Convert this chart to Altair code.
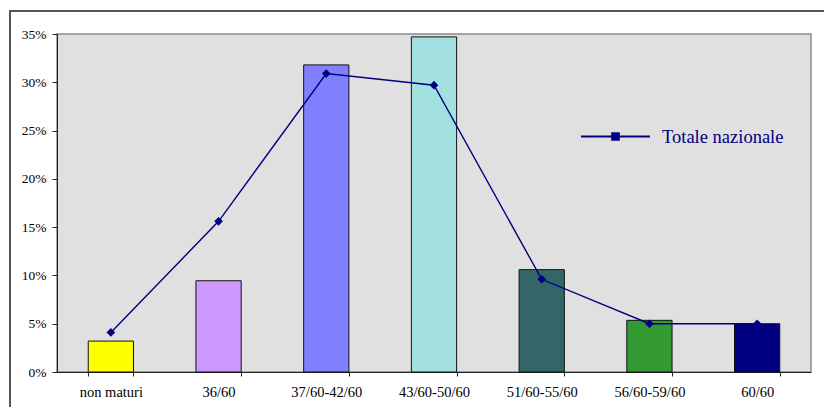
import altair as alt
import pandas as pd

# Fasce di voto e quote percentuali
categorie = ["non maturi", "36/60", "37/60-42/60", "43/60-50/60",
             "51/60-55/60", "56/60-59/60", "60/60"]
campione = [3.2, 9.45, 31.8, 34.7, 10.6, 5.35, 5.0]
nazionale = [4.1, 15.6, 30.9, 29.7, 9.6, 5.0, 5.0]
colori = ["#FFFF00", "#CC99FF", "#8080FF", "#A3E0E0",
          "#336666", "#339933", "#000080"]
serie_linea = "Totale nazionale"

df = pd.DataFrame({
    "fascia": categorie,
    "campione": campione,
    "nazionale": nazionale,
    "colore": colori,
    "serie": [serie_linea] * len(categorie),
})

W, H = 754, 338
SERIF = "Liberation Serif"
NAVY = "#000080"

x_enc = alt.X(
    "fascia:N", sort=categorie, title=None,
    scale=alt.Scale(paddingInner=0.58, paddingOuter=0.29),
    axis=alt.Axis(labelAngle=0, tickBand="extent", tickSize=4,
                  labelPadding=9, labelFont=SERIF, labelFontSize=14.5,
                  labelColor="#000", domainColor="#222", tickColor="#222"),
)
y_scale = alt.Scale(domain=[0, 35], nice=False)
y_axis = alt.Axis(values=[0, 5, 10, 15, 20, 25, 30, 35],
                  labelExpr="datum.value + '%'", grid=False, tickSize=5,
                  labelPadding=6, labelFont=SERIF, labelFontSize=13.5,
                  labelColor="#000", domainColor="#222", tickColor="#222")

# cornice esterna dell'area del grafico
cornice = alt.Chart(df).mark_rect(
    fill="transparent", stroke="#555", strokeWidth=1.5
).encode(
    x=alt.value(-47), x2=alt.value(W + 40),
    y=alt.value(-23), y2=alt.value(H + 60),
)

barre = alt.Chart(df).mark_bar(stroke="#111", strokeWidth=1).encode(
    x=x_enc,
    y=alt.Y("campione:Q", scale=y_scale, axis=y_axis, title=None),
    color=alt.Color("colore:N", scale=None),
)

linea = alt.Chart(df).mark_line(color=NAVY, strokeWidth=1.4).encode(
    x=alt.X("fascia:N", sort=categorie),
    y=alt.Y("nazionale:Q", scale=y_scale),
)

# simbolo di legenda: linea orizzontale con quadratino al centro
simbolo = ("M-1,-0.03H1V0.03H-1Z"
           "M-0.125,-0.125H0.125V0.125H-0.125Z")

punti = alt.Chart(df).mark_point(
    shape="diamond", filled=True, size=75, opacity=1
).encode(
    x=alt.X("fascia:N", sort=categorie),
    y=alt.Y("nazionale:Q", scale=y_scale),
    color=alt.Color(
        "serie:N",
        scale=alt.Scale(domain=[serie_linea], range=[NAVY]),
        legend=alt.Legend(
            title=None, orient="none", legendX=524, legendY=68,
            symbolType=simbolo, symbolSize=4761, symbolStrokeWidth=0,
            symbolFillColor=NAVY, padding=0, labelOffset=12,
            labelFont=SERIF, labelFontSize=18.5, labelColor=NAVY,
        ),
    ),
)

chart = alt.layer(cornice, barre, linea, punti).properties(
    width=W, height=H,
    autosize=alt.AutoSizeParams(type="none"),
    padding={"left": 57, "top": 34, "right": 13, "bottom": 35},
    background="white",
).configure_view(
    fill="#E0E0E0", stroke="#8A8A8A", strokeWidth=1.5
)

chart.save("out.html", embed_options={"renderer": "svg", "actions": False})
